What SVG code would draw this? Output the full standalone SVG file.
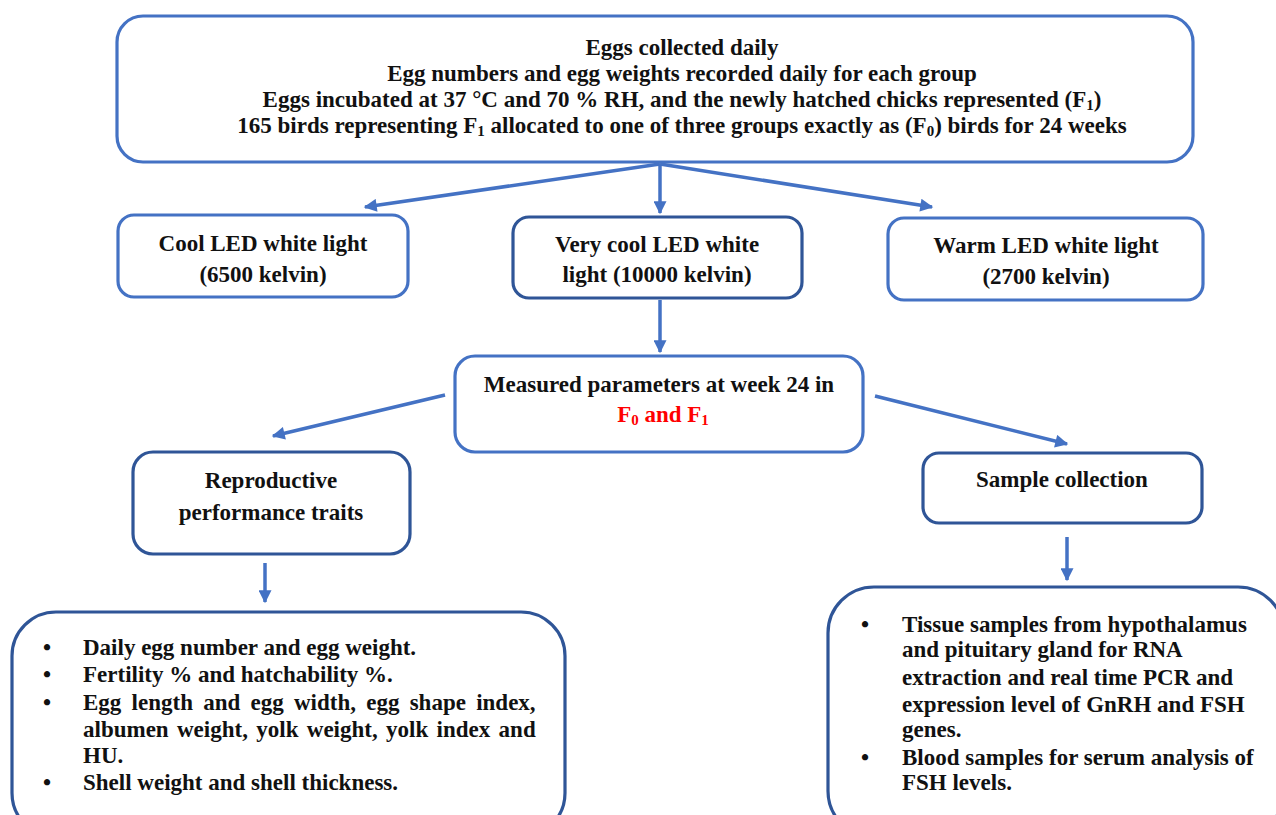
<svg xmlns="http://www.w3.org/2000/svg" width="1276" height="815" viewBox="0 0 1276 815">
<style>
.t{font-family:"Liberation Serif","Times New Roman",serif;font-weight:bold;font-size:23px;fill:#111}
.c{text-anchor:middle}
.red{fill:#FF0000}
.sub{font-size:15px}
.b1{fill:#fff;stroke:#4472C4;stroke-width:3.2}
.b2{fill:#fff;stroke:#2F5597;stroke-width:3.2}
.ln{stroke:#4472C4;stroke-width:3.5;fill:none;marker-end:url(#ah)}
</style>
<defs>
<marker id="ah" viewBox="0 0 10 10" refX="9" refY="5" markerWidth="14" markerHeight="13" markerUnits="userSpaceOnUse" orient="auto">
<path d="M0,0 L10,5 L0,10 z" fill="#4472C4"/>
</marker>
</defs>
<rect width="1276" height="815" fill="#fff"/>

<g id="connectors">
<line class="ln" x1="660" y1="164" x2="365" y2="207"/>
<line class="ln" x1="660" y1="164" x2="660" y2="213"/>
<line class="ln" x1="660" y1="164" x2="932" y2="207"/>
<line class="ln" x1="660" y1="300" x2="660" y2="352"/>
<line class="ln" x1="445" y1="395" x2="273" y2="436"/>
<line class="ln" x1="875" y1="396" x2="1067" y2="444"/>
<line class="ln" x1="265" y1="563" x2="265" y2="602"/>
<line class="ln" x1="1067" y1="537" x2="1067" y2="580"/>
</g>

<g id="top">
<rect class="b1" x="117" y="16" width="1076" height="146" rx="26"/>
<text class="t c" x="682" y="55">Eggs collected daily</text>
<text class="t c" x="682" y="81">Egg numbers and egg weights recorded daily for each group</text>
<text class="t c" x="682" y="107">Eggs incubated at 37 °C and 70 % RH, and the newly hatched chicks represented (F<tspan class="sub" dy="3">1</tspan><tspan dy="-3">)</tspan></text>
<text class="t c" x="682" y="133">165 birds representing F<tspan class="sub" dy="3">1</tspan><tspan dy="-3"> allocated to one of three groups exactly as (F</tspan><tspan class="sub" dy="3">0</tspan><tspan dy="-3">) birds for 24 weeks</tspan></text>
</g>

<g id="cool">
<rect class="b1" x="118" y="215" width="290" height="82" rx="16"/>
<text class="t c" x="263" y="251">Cool LED white light</text>
<text class="t c" x="263" y="282">(6500 kelvin)</text>
</g>

<g id="verycool">
<rect class="b2" x="513" y="217" width="289" height="81" rx="16"/>
<text class="t c" x="657" y="252">Very cool LED white</text>
<text class="t c" x="657" y="282">light (10000 kelvin)</text>
</g>

<g id="warm">
<rect class="b1" x="888" y="218" width="315" height="82" rx="16"/>
<text class="t c" x="1046" y="253">Warm LED white light</text>
<text class="t c" x="1046" y="284">(2700 kelvin)</text>
</g>

<g id="measured">
<rect class="b1" x="455" y="356" width="408" height="96" rx="20"/>
<text class="t c" x="659" y="392">Measured parameters at week 24 in</text>
<text class="t c red" x="663" y="422">F<tspan class="sub" dy="3">0</tspan><tspan dy="-3"> and F</tspan><tspan class="sub" dy="3">1</tspan></text>
</g>

<g id="reproductive">
<rect class="b2" x="133" y="452" width="277" height="102" rx="20"/>
<text class="t c" x="271" y="488">Reproductive</text>
<text class="t c" x="271" y="520">performance traits</text>
</g>

<g id="sample">
<rect class="b2" x="923" y="453" width="279" height="70" rx="16"/>
<text class="t c" x="1062" y="487">Sample collection</text>
</g>

<g id="traits-list">
<rect class="b2" x="12" y="612" width="553" height="225" rx="44"/>
<text class="t c" x="47" y="655">•</text>
<text class="t" x="83" y="655">Daily egg number and egg weight.</text>
<text class="t c" x="47" y="682">•</text>
<text class="t" x="83" y="682">Fertility % and hatchability %.</text>
<text class="t c" x="47" y="710">•</text>
<text class="t" x="83" y="710" word-spacing="4.5">Egg length and egg width, egg shape index,</text>
<text class="t" x="83" y="737" word-spacing="2.6">albumen weight, yolk weight, yolk index and</text>
<text class="t" x="83" y="763">HU.</text>
<text class="t c" x="47" y="790">•</text>
<text class="t" x="83" y="790">Shell weight and shell thickness.</text>
</g>

<g id="samples-list">
<rect class="b2" x="828" y="587" width="456" height="250" rx="46"/>
<text class="t c" x="865" y="632">•</text>
<text class="t" x="902" y="632">Tissue samples from hypothalamus</text>
<text class="t" x="902" y="657">and pituitary gland for RNA</text>
<text class="t" x="902" y="685">extraction and real time PCR and</text>
<text class="t" x="902" y="712">expression level of GnRH and FSH</text>
<text class="t" x="902" y="737">genes.</text>
<text class="t c" x="865" y="765">•</text>
<text class="t" x="902" y="765">Blood samples for serum analysis of</text>
<text class="t" x="902" y="790">FSH levels.</text>
</g>
</svg>
